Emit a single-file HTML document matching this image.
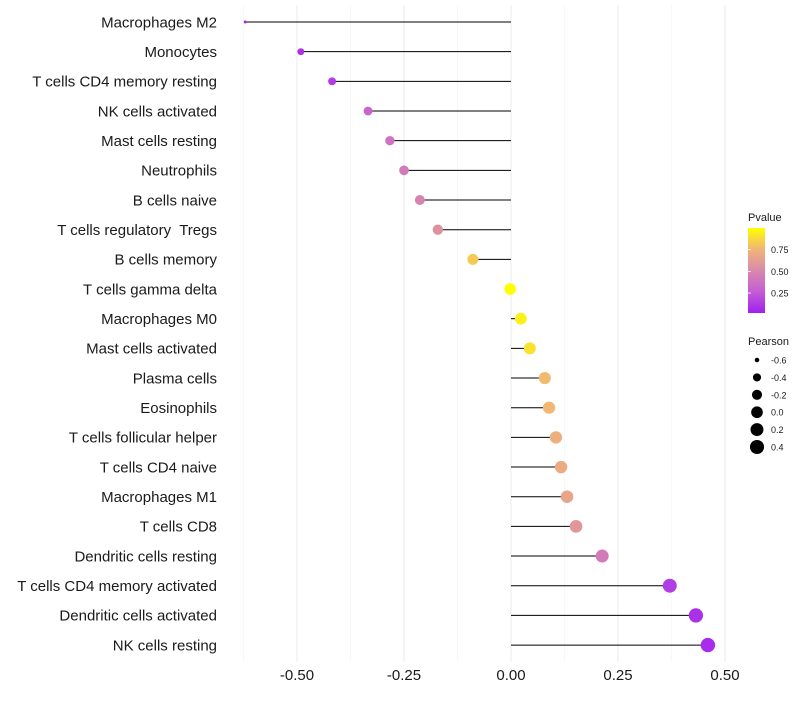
<!DOCTYPE html>
<html><head><meta charset="utf-8"><style>
body{margin:0;background:#fff;font-family:"Liberation Sans",sans-serif}
text{white-space:pre}
</style></head><body>
<svg id="chart" width="800" height="700" xmlns="http://www.w3.org/2000/svg"></svg>
<script>
const categories=["Macrophages M2","Monocytes","T cells CD4 memory resting","NK cells activated","Mast cells resting","Neutrophils","B cells naive","T cells regulatory  Tregs","B cells memory","T cells gamma delta","Macrophages M0","Mast cells activated","Plasma cells","Eosinophils","T cells follicular helper","T cells CD4 naive","Macrophages M1","T cells CD8","Dendritic cells resting","T cells CD4 memory activated","Dendritic cells activated","NK cells resting"];
const pearson=[-0.621,-0.491,-0.418,-0.334,-0.283,-0.250,-0.213,-0.171,-0.089,-0.002,0.023,0.044,0.079,0.089,0.105,0.117,0.131,0.152,0.213,0.371,0.432,0.460];
const pvalue=[0.02,0.08,0.12,0.3,0.38,0.42,0.47,0.55,0.82,1.0,0.95,0.9,0.77,0.76,0.72,0.7,0.66,0.58,0.42,0.12,0.07,0.05];
const xTicks=[-0.5,-0.25,0,0.25,0.5];
const xTickLabels=["-0.50","-0.25","0.00","0.25","0.50"];
const colorTicks=[0.25,0.5,0.75];
const sizeTicks=[-0.6,-0.4,-0.2,0.0,0.2,0.4];

const svg=document.getElementById('chart');
const NS='http://www.w3.org/2000/svg';
const x=v=>511+v*428;
const y=i=>22+i*29.67;
const r=v=>1.5+5.5*Math.sqrt(Math.max(0,v+0.62));
function lerp(a,b,t){return a.map((c,i)=>Math.round(c+(b[i]-c)*t));}
const stops=[[0,[160,32,240]],[0.25,[196,92,214]],[0.5,[216,138,170]],[0.75,[240,180,120]],[1,[255,255,0]]];
function col(p){for(let k=0;k<stops.length-1;k++){const [a,ca]=stops[k],[b,cb]=stops[k+1];if(p<=b){const c=lerp(ca,cb,(p-a)/(b-a));return `rgb(${c})`;}}return 'rgb(255,255,0)';}
function mk(tag,attrs,text){const e=document.createElementNS(NS,tag);for(const k in attrs)e.setAttribute(k,attrs[k]);if(text!==undefined)e.textContent=text;svg.appendChild(e);return e;}

for(let v=-0.625;v<=0.6;v+=0.125){
  const major=Math.abs((v*4)%1)<1e-6;
  const g=mk('line',{x1:x(v),x2:x(v),y1:5,y2:662,stroke:major?'#ebebeb':'#f4f4f4','stroke-width':major?1:0.6});
  
  
}
xTicks.forEach((v,i)=>{
  const t=mk('text',{x:x(v),y:680,'text-anchor':'middle','font-size':15,fill:'#1a1a1a'},xTickLabels[i]);
  
  
});
categories.forEach((c,i)=>{
  const t=mk('text',{x:217,y:y(i)+5.3,'text-anchor':'end','font-size':15,fill:'#1a1a1a'},c);
  
  
  const l=mk('line',{x1:x(0),x2:x(pearson[i]),y1:y(i),y2:y(i),stroke:'#000','stroke-width':1});
  
  
  const p=mk('circle',{cx:x(pearson[i]),cy:y(i),r:r(pearson[i]),fill:col(pvalue[i])});
  
  
});
let t=mk('text',{x:748,y:221,'font-size':11,fill:'#1a1a1a'},'Pvalue');


const defs=mk('defs',{});
const lg=document.createElementNS(NS,'linearGradient');lg.setAttribute('id','pg');lg.setAttribute('x1','0');lg.setAttribute('y1','1');lg.setAttribute('x2','0');lg.setAttribute('y2','0');
stops.forEach(s=>{const st=document.createElementNS(NS,'stop');st.setAttribute('offset',s[0]);st.setAttribute('stop-color',`rgb(${s[1]})`);lg.appendChild(st);});
defs.appendChild(lg);
const cb=mk('rect',{x:748,y:228,width:17,height:85,fill:'url(#pg)'});


const cy=p=>313-(p-0.02)/0.98*85;
colorTicks.forEach(v=>{
  const tk=mk('line',{x1:748,x2:751,y1:cy(v),y2:cy(v),stroke:'#fff','stroke-width':0.8});
  
  
  const tt=mk('text',{x:771,y:cy(v)+3.5,'font-size':9,fill:'#1a1a1a'},v.toFixed(2));
  
  
});
t=mk('text',{x:748,y:345,'font-size':11,fill:'#1a1a1a'},'Pearson');


sizeTicks.forEach((v,i)=>{
  const yy=360+i*17.4;
  const c=mk('circle',{cx:757,cy:yy,r:r(v),fill:'#000'});
  
  
  const tt=mk('text',{x:771,y:yy+3.5,'font-size':9,fill:'#1a1a1a'},v.toFixed(1));
  
  
});
</script>
</body></html>
